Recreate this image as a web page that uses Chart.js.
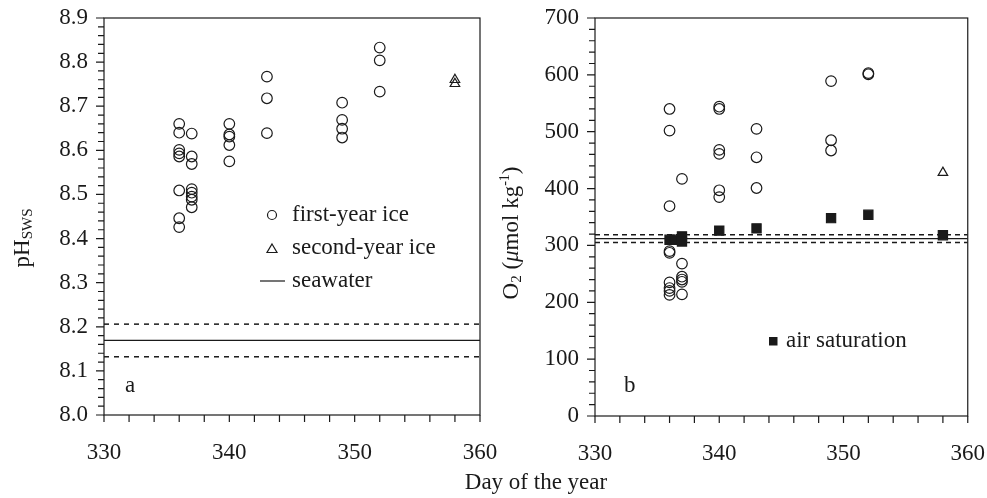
<!DOCTYPE html>
<html>
<head>
<meta charset="utf-8">
<script src="https://cdn.jsdelivr.net/npm/chart.js@4.4.1/dist/chart.umd.min.js"></script>
<style>
  body { margin:0; background:#fff; width:987px; height:498px; overflow:hidden; position:relative; }
  #wa { position:absolute; left:0; top:0; }
  #wb { position:absolute; left:490px; top:0; }
  #xt { position:absolute; left:386px; top:469px; width:300px; text-align:center;
        font:23px "Liberation Serif", serif; line-height:26px; color:#1a1a1a; }
</style>
</head>
<body>
<canvas id="wa" width="520" height="498"></canvas>
<canvas id="wb" width="497" height="498"></canvas>
<div id="xt">Day of the year</div>
<script>
// day axis
const dayRange = [330, 360];
const dayLabels = [330, 340, 350, 360];

// panel a : pH
const phTicks = [8.0, 8.1, 8.2, 8.3, 8.4, 8.5, 8.6, 8.7, 8.8, 8.9];
const phFirstDay = [336,336,336,336,336,336,336,336, 337,337,337,337,337,337,337,337, 340,340,340,340,340, 343,343,343, 349,349,349,349, 352,352,352];
const phFirstVal = [8.660,8.640,8.601,8.593,8.586,8.509,8.446,8.426, 8.638,8.586,8.569,8.512,8.504,8.495,8.488,8.471, 8.660,8.636,8.631,8.612,8.575, 8.767,8.718,8.639, 8.708,8.669,8.649,8.629, 8.833,8.804,8.733];
const phSecondDay = [358, 358];
const phSecondVal = [8.760, 8.751];
const phSea = 8.169, phSeaLo = 8.132, phSeaHi = 8.206;

// panel b : O2
const o2Ticks = [0, 100, 200, 300, 400, 500, 600, 700];
const o2FirstDay = [336,336,336,336,336,336,336,336,336, 337,337,337,337,337,337, 340,340,340,340,340,340, 343,343,343, 349,349,349, 352,352];
const o2FirstVal = [540,502,369,290,287,235,225,220,213, 417,268,245,240,236,214, 544,540,468,461,397,385, 505,455,401, 589,485,467, 603,601];
const o2SecondDay = [358];
const o2SecondVal = [428];
const airDay = [336, 336.4, 337, 337, 340, 343, 349, 352, 358];
const airVal = [310, 310, 316, 307, 326, 330, 348, 354, 318];
const o2Sea = 312, o2SeaLo = 305, o2SeaHi = 319;

const ink = '#1a1a1a';
const serif = '"Liberation Serif", "Times New Roman", serif';
const fs = 23;

function pts(xs, ys) { return xs.map((x, i) => ({x: x, y: ys[i]})); }
function flat(v) { return [{x: dayRange[0], y: v}, {x: dayRange[1], y: v}]; }
function near(list, v, eps) { return list.some(t => Math.abs(t - v) < eps); }

function lineSet(v, dash, w) {
  return { type: 'line', data: flat(v), borderColor: ink, borderWidth: w, borderDash: dash,
           pointRadius: 0, showLine: true, fill: false, order: 5 };
}
function markSet(data, style, r, filled, order) {
  return { data: data, pointStyle: style, pointRadius: r, borderColor: ink, borderWidth: 1.2,
           backgroundColor: filled ? ink : 'rgba(0,0,0,0)', order: order };
}

// frame + outward ticks, major ticks longer
const frameTicks = {
  id: 'frameTicks',
  afterDraw(chart) {
    const ctx = chart.ctx, a = chart.chartArea, xs = chart.scales.x, ys = chart.scales.y;
    ctx.save();
    ctx.strokeStyle = ink; ctx.lineWidth = 1.2;
    ctx.strokeRect(a.left, a.top, a.right - a.left, a.bottom - a.top);
    ctx.beginPath();
    xs.ticks.forEach(t => {
      const p = xs.getPixelForValue(t.value);
      ctx.moveTo(p, a.bottom); ctx.lineTo(p, a.bottom + 7);
    });
    ys.ticks.forEach(t => {
      const p = ys.getPixelForValue(t.value);
      const len = t.label !== '' ? 8 : 6;
      ctx.moveTo(a.left, p); ctx.lineTo(a.left - len, p);
    });
    ctx.stroke();
    ctx.restore();
  }
};

// rotated y title with sub/superscripts: parts = [text, size, shift, italic]
function drawTitle(ctx, parts, cx, cy) {
  ctx.save();
  ctx.fillStyle = ink;
  ctx.textBaseline = 'alphabetic';
  let total = 0;
  parts.forEach(p => { ctx.font = (p[3] ? 'italic ' : '') + p[1] + 'px ' + serif; total += ctx.measureText(p[0]).width; });
  ctx.translate(cx, cy);
  ctx.rotate(-Math.PI / 2);
  let x = -total / 2;
  parts.forEach(p => {
    ctx.font = (p[3] ? 'italic ' : '') + p[1] + 'px ' + serif;
    ctx.fillText(p[0], x, 7 + p[2]);
    x += ctx.measureText(p[0]).width;
  });
  ctx.restore();
}

function text(ctx, s, x, y, size) {
  ctx.font = size + 'px ' + serif;
  ctx.fillStyle = ink;
  ctx.textAlign = 'left';
  ctx.textBaseline = 'middle';
  ctx.fillText(s, x, y);
}

const decorA = {
  id: 'decorA',
  afterDraw(chart) {
    const ctx = chart.ctx;
    ctx.save();
    drawTitle(ctx, [['pH', fs, 0], ['SWS', 15, 3]], 22, 238);
    ctx.strokeStyle = ink; ctx.lineWidth = 1.2;
    ctx.beginPath(); ctx.arc(272, 215, 4.5, 0, Math.PI * 2); ctx.stroke();
    ctx.beginPath(); ctx.moveTo(272, 244); ctx.lineTo(277, 252.5); ctx.lineTo(267, 252.5); ctx.closePath(); ctx.stroke();
    ctx.beginPath(); ctx.moveTo(260, 281); ctx.lineTo(285, 281); ctx.stroke();
    text(ctx, 'first-year ice', 292, 215, fs);
    text(ctx, 'second-year ice', 292, 248, fs);
    text(ctx, 'seawater', 292, 281, fs);
    text(ctx, 'a', 125, 386, fs);
    ctx.restore();
  }
};

const decorB = {
  id: 'decorB',
  afterDraw(chart) {
    const ctx = chart.ctx;
    ctx.save();
    drawTitle(ctx, [['O', fs, 0], ['2', 15, 3], [' (', fs, 0], ['\u03bc', fs, 0, true], ['mol kg', fs, 0], ['-1', 14, -9], [')', fs, 0]], 21, 233);
    ctx.fillStyle = ink;
    ctx.fillRect(279, 337, 8.5, 8.5);
    text(ctx, 'air saturation', 296, 341, fs);
    text(ctx, 'b', 134, 386, fs);
    ctx.restore();
  }
};

function makeChart(id, datasets, yMin, yMax, yStep, yLabels, yFmt, padRight, yWidth, xHeight, decor) {
  return new Chart(document.getElementById(id), {
    type: 'scatter',
    data: { datasets: datasets },
    plugins: [frameTicks, decor],
    options: {
      responsive: false,
      animation: false,
      layout: { padding: { left: 0, top: 18, right: padRight, bottom: 0 } },
      plugins: { legend: { display: false }, tooltip: { enabled: false } },
      scales: {
        x: {
          type: 'linear', min: dayRange[0], max: dayRange[1],
          grid: { display: false, drawTicks: true, tickLength: 22 },
          border: { display: false },
          afterFit: s => { s.height = xHeight; },
          ticks: {
            stepSize: 2, autoSkip: false, maxRotation: 0, padding: 2,
            color: ink, font: { family: serif, size: fs },
            callback: v => near(dayLabels, v, 1e-6) ? String(v) : ''
          }
        },
        y: {
          type: 'linear', min: yMin, max: yMax,
          grid: { display: false, drawTicks: true, tickLength: 16 },
          border: { display: false },
          afterFit: s => { s.width = yWidth; },
          ticks: {
            stepSize: yStep, autoSkip: false, padding: 0,
            color: ink, font: { family: serif, size: fs },
            callback: v => near(yLabels, v, yStep / 100) ? yFmt(v) : ''
          }
        }
      }
    }
  });
}

makeChart('wa', [
  markSet(pts(phFirstDay, phFirstVal), 'circle', 5.3, false, 1),
  markSet(pts(phSecondDay, phSecondVal), 'triangle', 5.5, false, 1),
  lineSet(phSea, [], 1.2),
  lineSet(phSeaHi, [5, 5], 1.5),
  lineSet(phSeaLo, [5, 5], 1.5)
], phTicks[0], phTicks[phTicks.length - 1], 0.02, phTicks, v => v.toFixed(1), 40, 104, 83, decorA);

makeChart('wb', [
  markSet(pts(airDay, airVal), 'rect', 6.5, true, 0),
  markSet(pts(o2FirstDay, o2FirstVal), 'circle', 5.3, false, 1),
  markSet(pts(o2SecondDay, o2SecondVal), 'triangle', 5.5, false, 1),
  lineSet(o2Sea, [], 1.2),
  lineSet(o2SeaHi, [5, 4], 1.5),
  lineSet(o2SeaLo, [5, 4], 1.5)
], o2Ticks[0], o2Ticks[o2Ticks.length - 1], 20, o2Ticks, v => String(v), 19, 105, 82, decorB);
</script>
</body>
</html>
